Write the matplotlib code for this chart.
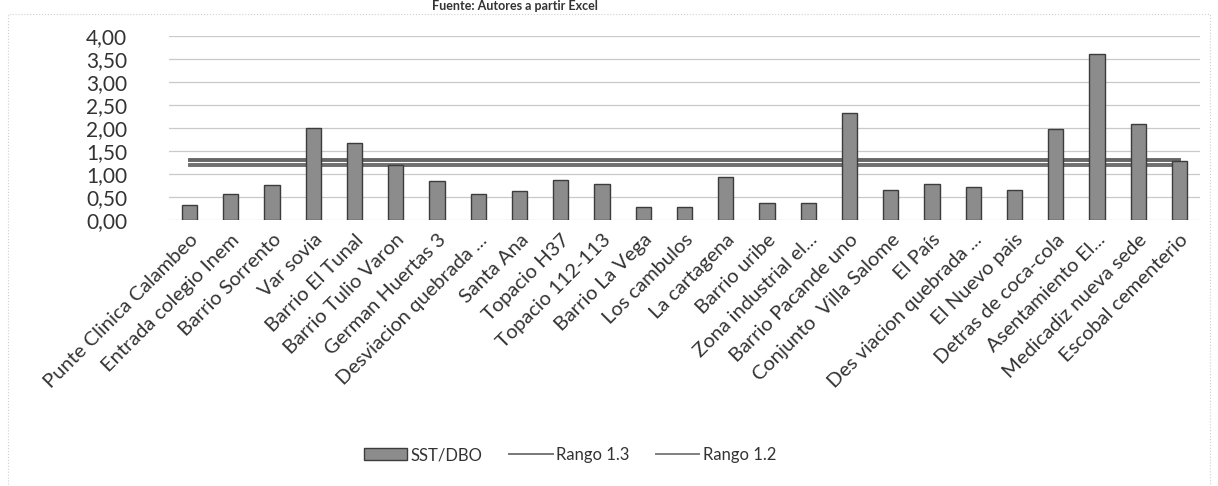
import matplotlib.pyplot as plt
import matplotlib.patches as patches
from matplotlib.lines import Line2D
import numpy as np

plt.rcParams['font.family'] = ['Lato', 'DejaVu Sans']

# datos
sitios = ['Punte Clinica Calambeo', 'Entrada colegio Inem', 'Barrio Sorrento', 'Var sovia',
          'Barrio El Tunal', 'Barrio Tulio Varon', 'German Huertas 3', 'Desviacion quebrada ...',
          'Santa Ana', 'Topacio H37', 'Topacio 112-113', 'Barrio La Vega', 'Los cambulos',
          'La cartagena', 'Barrio uribe', 'Zona industrial el...', 'Barrio Pacande uno',
          'Conjunto  Villa Salome', 'El País', 'Des viacion quebrada ...', 'El Nuevo pais',
          'Detras de coca-cola', 'Asentamiento El...', 'Medicadiz nueva sede', 'Escobal cementerio']
sst_dbo = [0.32, 0.57, 0.76, 2.00, 1.67, 1.20, 0.85, 0.57, 0.63, 0.88, 0.78, 0.29, 0.29,
           0.93, 0.37, 0.36, 2.33, 0.66, 0.79, 0.71, 0.66, 1.98, 3.61, 2.09, 1.29]
rango_13 = [1.3] * len(sitios)
rango_12 = [1.2] * len(sitios)
yticks = [0, 0.5, 1.0, 1.5, 2.0, 2.5, 3.0, 3.5, 4.0]

fig = plt.figure(figsize=(12.18, 4.86), dpi=100)
ax = fig.add_axes([169 / 1218, 1 - 220 / 486, 1031 / 1218, 184 / 486])

x = np.arange(len(sitios))
barras = ax.bar(x, sst_dbo, width=0.37, color='#8c8c8c', edgecolor='#3c3c3c', linewidth=1.0,
                label='SST/DBO', zorder=3)
ax.plot(x, rango_13, color='#666666', linewidth=2.8, zorder=2)
ax.plot(x, rango_12, color='#707070', linewidth=2.8, zorder=2)

ax.set_xlim(-0.5, len(sitios) - 0.5)
ax.set_ylim(0, 4)
ax.set_yticks(yticks)
ax.set_yticklabels([f'{v:.2f}'.replace('.', ',') for v in yticks], fontsize=15, color='#333333')
ax.set_xticks(x)
ax.set_xticklabels(sitios, rotation=45, ha='right', rotation_mode='anchor',
                   fontsize=14.5, color='#333333')
ax.tick_params(axis='both', length=0)
ax.tick_params(axis='y', pad=30)
ax.tick_params(axis='x', pad=8)
ax.grid(axis='y', color='#c9c9c9', linewidth=0.9, zorder=0)
for s in ax.spines.values():
    s.set_visible(False)

# en la leyenda las lineas salen finas
h13 = Line2D([], [], color='#777777', linewidth=1.4)
h12 = Line2D([], [], color='#808080', linewidth=1.4)
ax.legend([barras, h13, h12], ['SST/DBO', 'Rango 1.3', 'Rango 1.2'],
          loc='center', bbox_to_anchor=(570 / 1218, 1 - 455 / 486),
          bbox_transform=fig.transFigure, ncol=3, frameon=False, fontsize=12,
          handlelength=2.6, columnspacing=1.6, handletextpad=0.2,
          labelcolor='#333333')

# titulo cortado por el borde superior (escaneo)
fig.text(515 / 1218, 0.999, 'Fuente: Autores a partir Excel', ha='center', va='top',
         fontsize=9, fontweight='bold', color='#333333')

# marco del grafico
fig.patches.append(patches.Rectangle((8 / 1218, 0.0), 1 - 16 / 1218, 1 - 14 / 486,
                                     transform=fig.transFigure, fill=False,
                                     edgecolor='#cfcfcf', linewidth=0.8, linestyle=':'))

fig.savefig('out.png', dpi=100, facecolor='white')
